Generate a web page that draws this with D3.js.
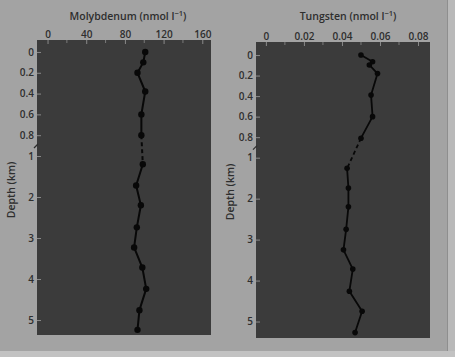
<!DOCTYPE html>
<html>
<head>
<meta charset="utf-8">
<script src="https://cdn.jsdelivr.net/npm/d3@7"></script>
<style>
  html, body { margin: 0; padding: 0; background: #a3a3a3; }
  svg { display: block; }
  text { font-family: "Open Sans", "Noto Sans", sans-serif; fill: #2e2e2e; }
</style>
</head>
<body>
<script>
// ---- data ----
const depthTicks = [0, 0.2, 0.4, 0.6, 0.8, 1, 2, 3, 4, 5];
const depthTickLabels = ["0", "0.2", "0.4", "0.6", "0.8", "1", "2", "3", "4", "5"];

const moTicks = [0, 40, 80, 120, 160];
const moTickLabels = ["0", "40", "80", "120", "160"];
const moMinorTicks = [20, 60, 100, 140];
const moDepth = [0, 0.1, 0.2, 0.38, 0.6, 0.8, 1.2, 1.72, 2.2, 2.74, 3.23, 3.72, 4.24, 4.76, 5.24];
const moValue = [101, 99, 93, 101, 97, 97, 98.5, 91.6, 96.5, 92.3, 89.5, 98, 102, 95, 93];

const wTicks = [0, 0.02, 0.04, 0.06, 0.08];
const wTickLabels = ["0", "0.02", "0.04", "0.06", "0.08"];
const wMinorTicks = [0.01, 0.03, 0.05, 0.07];
const wDepth = [0, 0.065, 0.097, 0.18, 0.39, 0.6, 0.81, 1.26, 1.74, 2.2, 2.75, 3.25, 3.72, 4.26, 4.75, 5.27];
const wValue = [0.050, 0.0561, 0.0544, 0.0587, 0.0553, 0.0561, 0.050, 0.0427, 0.0434, 0.0434, 0.0422, 0.0408, 0.0457, 0.0439, 0.0506, 0.0469];

const breakDepth = 1; // upper section (0–1 km) is expanded

const W = 455, H = 357;
const svg = d3.select("body").append("svg").attr("width", W).attr("height", H);

// scanned-page edges
svg.append("rect").attr("x", 0).attr("y", 0).attr("width", W).attr("height", H).attr("fill", "#a3a3a3");
svg.append("rect").attr("x", 0).attr("y", 351).attr("width", W).attr("height", 6).attr("fill", "#c2c2c2");
svg.append("rect").attr("x", 447).attr("y", 0).attr("width", 1).attr("height", 351).attr("fill", "#8e8e8e");
svg.append("rect").attr("x", 448).attr("y", 0).attr("width", 7).attr("height", 351).attr("fill", "#b9b9b9");

function panel(cfg) {
  const g = svg.append("g");
  const x = d3.scaleLinear().domain(cfg.xDomain).range([cfg.left, cfg.right]);
  const y = d3.scaleLinear().domain(cfg.yDomain).range(cfg.yRange);

  g.append("rect")
    .attr("x", cfg.left).attr("y", cfg.top)
    .attr("width", cfg.right - cfg.left).attr("height", cfg.bottom - cfg.top)
    .attr("fill", "#3b3b3b");

  // top axis
  const xAxis = d3.axisTop(x).tickValues(cfg.xTicks)
    .tickFormat((d, i) => cfg.xTickLabels[i]).tickSize(-4).tickPadding(2);
  const ax = g.append("g").attr("transform", `translate(0,${cfg.top})`).call(xAxis);
  ax.select(".domain").remove();
  ax.selectAll(".tick line").attr("stroke", "#8a8a8a");
  ax.selectAll(".tick text").attr("font-size", 10).attr("font-weight", 600).attr("fill", "#2e2e2e");
  g.append("g").selectAll("line").data(cfg.xMinor).join("line")
    .attr("x1", d => x(d)).attr("x2", d => x(d))
    .attr("y1", cfg.top).attr("y2", cfg.top + 3)
    .attr("stroke", "#7a7a7a");

  // left axis
  const yAxis = d3.axisLeft(y).tickValues(depthTicks)
    .tickFormat((d, i) => depthTickLabels[i]).tickSize(-4).tickPadding(3);
  const ay = g.append("g").attr("transform", `translate(${cfg.left},0)`).call(yAxis);
  ay.select(".domain").remove();
  ay.selectAll(".tick line").attr("stroke", "#8a8a8a");
  ay.selectAll(".tick text").attr("font-size", 10).attr("font-weight", 600).attr("fill", "#2e2e2e");

  // axis-break mark
  const yb = y(breakDepth) - 10;
  g.append("path")
    .attr("d", `M${cfg.left - 3},${yb + 2} L${cfg.left + 1},${yb - 2}`)
    .attr("stroke", "#2e2e2e").attr("stroke-width", 1.2);

  // title
  const t = g.append("text")
    .attr("x", (cfg.left + cfg.right) / 2 + cfg.titleShift).attr("y", 20)
    .attr("text-anchor", "middle").attr("font-size", 10.5).attr("font-weight", 600);
  t.append("tspan").text(cfg.title + " (nmol l");
  t.append("tspan").attr("dy", -4).attr("font-size", 7.5).text("\u22121");
  t.append("tspan").attr("dy", 4).text(")");

  g.append("text")
    .attr("transform", `translate(${cfg.left - 22},${cfg.labelY}) rotate(-90)`)
    .attr("text-anchor", "middle").attr("font-size", 10.5).attr("font-weight", 600)
    .text("Depth (km)");

  // data
  const pts = cfg.depth.map((d, i) => ({ d, v: cfg.value[i] }));
  const upper = pts.filter(p => p.d <= breakDepth);
  const lower = pts.filter(p => p.d > breakDepth);
  const line = d3.line().x(p => x(p.v)).y(p => y(p.d));

  g.append("path").datum(upper).attr("d", line)
    .attr("fill", "none").attr("stroke", "#080808").attr("stroke-width", cfg.lw).attr("stroke-linejoin", "round");
  g.append("path").datum([upper[upper.length - 1], lower[0]]).attr("d", line)
    .attr("fill", "none").attr("stroke", "#080808").attr("stroke-width", cfg.lw).attr("stroke-dasharray", "4,3");
  g.append("path").datum(lower).attr("d", line)
    .attr("fill", "none").attr("stroke", "#080808").attr("stroke-width", cfg.lw).attr("stroke-linejoin", "round");

  g.append("g").selectAll("circle").data(pts).join("circle")
    .attr("cx", p => x(p.v)).attr("cy", p => y(p.d)).attr("r", cfg.r)
    .attr("fill", "#080808");
}

panel({
  left: 37, right: 211, top: 40, bottom: 335,
  xDomain: [-10.9, 169], yDomain: [-0.115, 1, 5.38], yRange: [40, 156, 335.6],
  xTicks: moTicks, xTickLabels: moTickLabels, xMinor: moMinorTicks,
  depth: moDepth, value: moValue,
  title: "Molybdenum", titleShift: 4, labelY: 190, lw: 2, r: 3.2
});

panel({
  left: 256, right: 430, top: 42, bottom: 338,
  xDomain: [-0.0052, 0.0863], yDomain: [-0.127, 1, 5.4], yRange: [42, 157.7, 337.9],
  xTicks: wTicks, xTickLabels: wTickLabels, xMinor: wMinorTicks,
  depth: wDepth, value: wValue,
  title: "Tungsten", titleShift: 5, labelY: 192, lw: 1.8, r: 2.8
});
</script>
</body>
</html>
